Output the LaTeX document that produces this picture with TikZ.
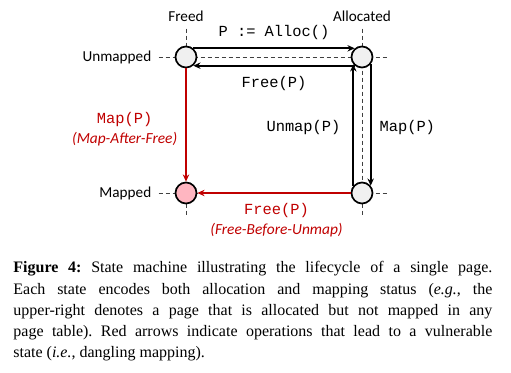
\documentclass[tikz,border=0pt]{standalone}
\usepackage{fontspec}
\setmainfont{Liberation Serif}
\setsansfont{Carlito}
\setmonofont{Liberation Mono}
\usepackage{xcolor}
\definecolor{idle}{HTML}{F0F0F0}
\definecolor{vuln}{HTML}{FFB6C1}
\definecolor{danger}{HTML}{C00000}
\usepackage{tikz}
\usetikzlibrary{arrows.meta,positioning,backgrounds}
\tikzset{
  >=Stealth,
  font=\sffamily\fontsize{7.6}{9}\selectfont,
  state/.style={circle,draw=black,line width=0.85pt,fill=idle,minimum size=10.5pt,inner sep=0pt},
  badstate/.style={state,fill=vuln},
  axis/.style={inner sep=1pt},
  guide/.style={draw=black!75,line width=0.45pt,dash pattern=on 2pt off 1.5pt},
  op/.style={-{Stealth[length=3.6pt,width=3.2pt]},line width=0.85pt,draw=black},
  opbad/.style={op,line width=0.8pt,draw=danger},
  call/.style={font=\ttfamily\fontsize{7.7}{9.7}\selectfont,inner sep=1pt},
  callbad/.style={call,text=danger,align=center},
  capt/.style={font=\rmfamily\fontsize{8}{10.6}\selectfont\frenchspacing,text width=239.5pt,
               align=justify,inner sep=0pt},
}

\begin{document}
\begin{tikzpicture}
  \useasboundingbox (0,0) rectangle (255.5pt,-186.5pt);
  % states: columns freed/allocated, rows unmapped/mapped
  \node[state] (fu) at (93pt,-28.5pt) {};
  \node[state,on grid,right=88pt of fu] (au) {};
  \node[badstate,on grid,below=68pt of fu] (fm) {};
  \node[state,on grid,below=68pt of au] (am) {};
  \node[axis,above=11pt of fu] (freed) {Freed};
  \node[axis,above=11pt of au] (alloc) {Allocated};
  \node[axis,left=10.5pt of fu] (unmapped) {Unmapped};
  \node[axis,left=10.5pt of fm] (mapped) {Mapped};
  \coordinate[right=7pt of au] (auright);
  \coordinate[right=7pt of am] (amright);
  \coordinate[below=6pt of fm] (fmbelow);
  \coordinate[below=6pt of am] (ambelow);
  \begin{scope}[on background layer]
    \draw[guide,shorten <=2.5pt] (freed) -- (fmbelow);
    \draw[guide,shorten <=2.5pt] (alloc) -- (ambelow);
    \draw[guide,shorten <=2.5pt] (unmapped) -- (auright);
    \draw[guide,shorten <=2.5pt] (mapped) -- (amright);
  \end{scope}
  % transitions
  \draw[op] (fu.50) -- node[call,above=3pt] {P := Alloc()} (au.130);
  \draw[op] (au.-130) -- node[call,below=4pt] {Free(P)} (fu.-50);
  \draw[op] (am.140) -- node[call,left=5pt,yshift=-1.5pt] {Unmap(P)} (au.-140);
  \draw[op] (au.-40) -- node[call,right=3pt,yshift=-1.5pt] {Map(P)} (am.40);
  \draw[opbad] (fu) -- node[callbad,left=3pt,yshift=-2pt]
    {Map(P)\\\sffamily\itshape (Map-After-Free)} (fm);
  \draw[opbad] (am) -- node[callbad,below=4pt,xshift=1.25pt]
    {Free(P)\\\sffamily\itshape (Free-Before-Unmap)} (fm);
  \node[capt,anchor=base west] (caption) at (6.5pt,-136.5pt)
    {\textbf{Figure 4:} State machine illustrating the lifecycle of a single page.\linebreak
     Each state encodes both allocation and mapping status (\textit{e.g.}, the\linebreak
     upper-right denotes a page that is allocated but not mapped in any\linebreak
     page table). Red arrows indicate operations that lead to a vulnerable\linebreak
     state (\textit{i.e.}, dangling mapping).};
\end{tikzpicture}
\end{document}
